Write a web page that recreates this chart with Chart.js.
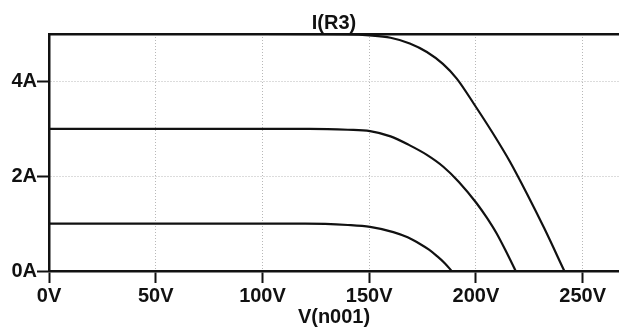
<!DOCTYPE html>
<html>
<head>
<meta charset="utf-8">
<script src="https://cdn.jsdelivr.net/npm/chart.js@4.4.1/dist/chart.umd.min.js"></script>
<style>
    html, body { margin: 0; padding: 0; background: #fff; }
    #wrap { width: 619px; height: 327px; }
</style>
</head>
<body>
<div id="wrap"><canvas id="ivChart" width="619" height="327"></canvas></div>
<script>
// I-V curves, three irradiance levels (voltage in V, current in A)
var vHigh = [0, 100, 140, 150, 160, 169, 177, 184.5, 191, 200, 208, 216, 224, 232, 241.4];
var iHigh = [5, 5, 4.99, 4.97, 4.92, 4.8, 4.62, 4.37, 4.06, 3.46, 2.9, 2.3, 1.62, 0.9, 0];

var vMid = [0, 100, 122, 140, 150.4, 160, 169, 177, 184.7, 192, 200.3, 205, 209.7, 214, 218.6];
var iMid = [3, 3, 3, 2.98, 2.95, 2.84, 2.65, 2.45, 2.2, 1.88, 1.43, 1.13, 0.79, 0.42, 0];

var vLow = [0, 100, 120, 140, 150.4, 161.3, 168, 173.8, 178, 181.6, 185.5, 188.6];
var iLow = [1, 1, 1, 0.97, 0.93, 0.82, 0.71, 0.57, 0.45, 0.32, 0.16, 0];

var xTicks = [0, 50, 100, 150, 200, 250];
var yTicks = [0, 2, 4];

function toPoints(v, i) {
    return v.map(function (x, k) { return { x: x, y: i[k] }; });
}

var labelFont = { family: "'Liberation Sans', Arial, sans-serif", size: 20, weight: "bold" };

function curve(v, i) {
    return {
        data: toPoints(v, i),
        borderColor: "#111",
        borderWidth: 2.2,
        pointRadius: 0,
        fill: false,
        cubicInterpolationMode: "monotone",
    };
}

// dotted grey grid, solid black tick marks
var gridOpts = {
    color: "#b8b8b8",
    tickLength: 12,
    tickColor: "#111",
    tickWidth: 2,
    tickBorderDash: [],
};

var ctx = document.getElementById("ivChart").getContext("2d");
var ivChart = new Chart(ctx, {
    type: "line",
    data: {
        datasets: [curve(vHigh, iHigh), curve(vMid, iMid), curve(vLow, iLow)],
    },
    options: {
        responsive: false,
        animation: false,
        layout: { padding: 0 },
        plugins: {
            legend: { display: false },
            tooltip: { enabled: false },
        },
        scales: {
            x: {
                type: "linear",
                position: "bottom",
                min: 0,
                max: 267,
                afterBuildTicks: function (scale) {
                    scale.ticks = xTicks.map(function (v) { return { value: v }; });
                },
                afterFit: function (scale) { scale.height = 56; },
                ticks: {
                    color: "#111",
                    font: labelFont,
                    padding: 1,
                    maxRotation: 0,
                    callback: function (v) { return v + "V"; },
                },
                grid: gridOpts,
                border: { color: "#111", width: 2.5, dash: [1, 2] },
                title: {
                    display: true,
                    text: "V(n001)",
                    color: "#111",
                    font: labelFont,
                    padding: { top: 0, bottom: -2 },
                },
            },
            top: {
                type: "linear",
                position: "top",
                min: 0,
                max: 267,
                afterFit: function (scale) { scale.height = 34; },
                ticks: { display: false },
                grid: { display: false },
                border: { color: "#111", width: 2.5 },
                title: {
                    display: true,
                    text: "I(R3)",
                    color: "#111",
                    font: labelFont,
                    padding: { top: 11, bottom: 0 },
                },
            },
            y: {
                type: "linear",
                min: 0,
                max: 5,
                afterBuildTicks: function (scale) {
                    scale.ticks = yTicks.map(function (v) { return { value: v }; });
                },
                afterFit: function (scale) { scale.width = 49; },
                ticks: {
                    color: "#111",
                    font: labelFont,
                    padding: 0,
                    callback: function (v) { return v + "A"; },
                },
                grid: gridOpts,
                border: { color: "#111", width: 2.5, dash: [1, 2] },
            },
        },
    },
});
</script>
</body>
</html>
